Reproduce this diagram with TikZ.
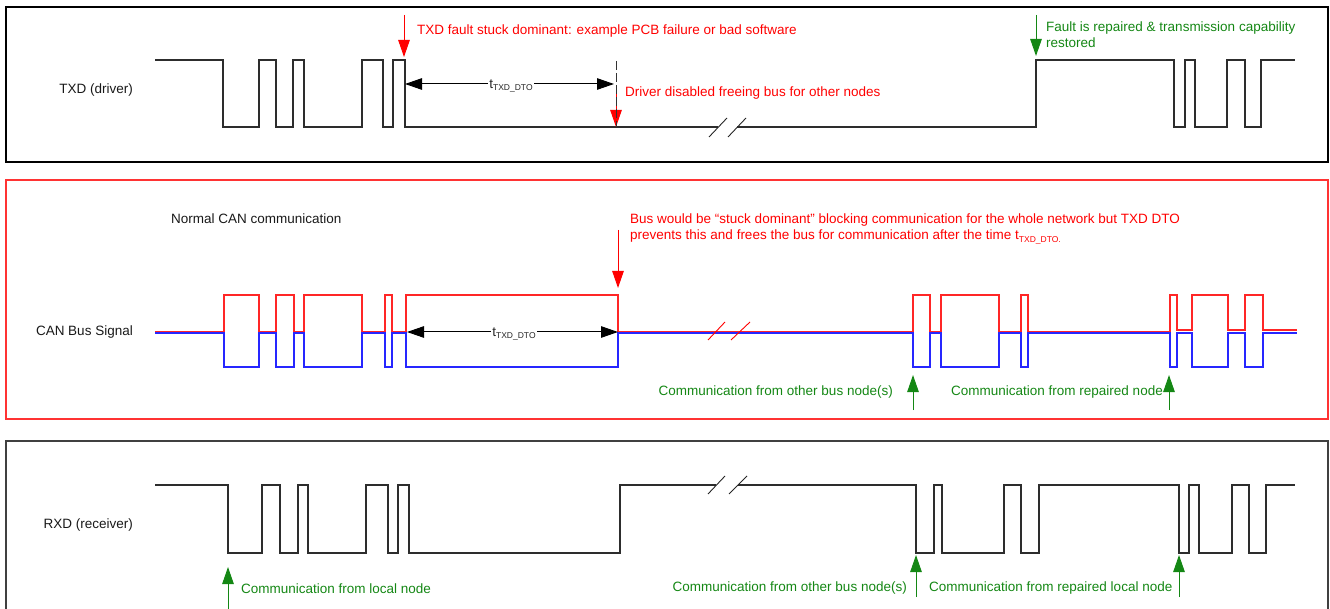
\documentclass[tikz,border=0pt]{standalone}
\usepackage{fontspec}
\setmainfont{Liberation Sans}
\usetikzlibrary{arrows.meta}
\definecolor{grn}{RGB}{20,135,20}
\definecolor{wavegray}{RGB}{45,45,45}
\newcommand{\tdto}{t\raisebox{-2.5pt}{\fontsize{8.5}{9}\selectfont TXD\_DTO}}
\newcommand{\tdtop}{t\raisebox{-2.5pt}{\fontsize{8.5}{9}\selectfont TXD\_DTO.}}
\tikzset{bigtri/.tip={Triangle[width=11.5pt,length=17pt]}}
\begin{document}
\begin{tikzpicture}[x=1pt,y=-1pt,
  wave/.style={line width=1.1pt, draw=wavegray, line join=miter},
  lbl/.style={font=\fontsize{13.5}{16}\selectfont, inner sep=0pt, text=black!90},
  note/.style={lbl, anchor=west, align=left},
  rednote/.style={note, text=red},
  grnnote/.style={note, text=grn},
  redarrow/.style={draw=red, line width=1pt, -{bigtri}, red},
  grnarrow/.style={draw=grn, line width=1pt, -{bigtri}, grn},
  dimarrow/.style={draw=black!75, line width=1pt, {bigtri}-{bigtri}, black},
  dimlbl/.style={font=\fontsize{13.5}{16}\selectfont, fill=white, inner sep=1pt, text=black!85},
  brk/.style={line width=0.9pt},
  panel/.style={line width=1.1pt}
]
\useasboundingbox (0,0) rectangle (1330,609);

% ---------- panels ----------
\draw[panel, draw=black] (6,7) rectangle (1328,162);
\draw[panel, draw=red!80] (6,180) rectangle (1328,419);
\draw[panel, draw=black!75] (6,612) -- (6,441) -- (1328,441) -- (1328,612);

% ---------- row labels ----------
\node[lbl, anchor=east] (ltxd) at (133,90.5) {TXD (driver)};
\node[lbl, anchor=east] (lcan) at (133,332.5) {CAN Bus Signal};
\node[lbl, anchor=east] (lrxd) at (133,525.5) {RXD (receiver)};

% ---------- TXD waveform ----------
\draw[wave] (155,60) -- (223,60) -- (223,127) -- (259,127) -- (259,60) -- (276,60) -- (276,127)
  -- (293,127) -- (293,60) -- (304,60) -- (304,127) -- (362,127) -- (362,60) -- (383,60)
  -- (383,127) -- (393,127) -- (393,60) -- (405,60) -- (405,127) -- (718,127);
\draw[wave] (737,127) -- (1036,127) -- (1036,60) -- (1174,60) -- (1174,127) -- (1185,127)
  -- (1185,60) -- (1195,60) -- (1195,127) -- (1227,127) -- (1227,60) -- (1245,60) -- (1245,127)
  -- (1261,127) -- (1261,60) -- (1295,60);
\draw[brk, black!85] (709,137) -- (727,118);
\draw[brk, black!85] (728,137) -- (746,118);

% TXD annotations
\coordinate (f1s) at (404,15);
\coordinate (f1e) at (404,57);
\draw[redarrow] (f1s) -- (f1e);
\node[rednote] (n1) at (417,31.5) {TXD fault stuck dominant: example PCB failure or bad software};

\coordinate (d1s) at (616,88);
\coordinate (d1e) at (616,127);
\draw[redarrow] (d1s) -- (d1e);
\coordinate (dashTop) at (616,61);
\draw[black!80, line width=1pt, dash pattern=on 9pt off 3pt] (dashTop) -- (d1e);
\node[rednote] (n2) at (625,93.5) {Driver disabled freeing bus for other nodes};

\coordinate (a1) at (405,84);
\coordinate (a2) at (614,84);
\draw[dimarrow] (a1) -- (a2);
\node[dimlbl] (t1) at (511,86) {\tdto};

\coordinate (g1s) at (1036,15);
\coordinate (g1e) at (1036,56);
\draw[grnarrow] (g1s) -- (g1e);
\node[grnnote] (n3) at (1046,34.5) {Fault is repaired \& transmission capability\\restored};

% ---------- CAN bus ----------
\node[note] (ncan) at (171,218.5) {Normal CAN communication};

\draw[line width=1.1pt, draw=blue!85] (155,333) -- (224,333) -- (224,367) -- (259,367) -- (259,333)
  -- (276,333) -- (276,367) -- (294,367) -- (294,333) -- (304,333) -- (304,367) -- (362,367)
  -- (362,333) -- (385,333) -- (385,367) -- (392,367) -- (392,333) -- (406,333) -- (406,367)
  -- (618,367) -- (618,333) -- (913,333) -- (913,367) -- (930,367) -- (930,333) -- (941,333)
  -- (941,367) -- (999,367) -- (999,333) -- (1021,333) -- (1021,367) -- (1028,367) -- (1028,333)
  -- (1170,333) -- (1170,367) -- (1177,367) -- (1177,333) -- (1192,333) -- (1192,367) -- (1228,367)
  -- (1228,333) -- (1245,333) -- (1245,367) -- (1263,367) -- (1263,333) -- (1297,333);
\draw[line width=1.1pt, draw=red!85] (155,331.5) -- (224,331.5) -- (224,295) -- (259,295) -- (259,331.5)
  -- (276,331.5) -- (276,295) -- (294,295) -- (294,331.5) -- (304,331.5) -- (304,295) -- (362,295)
  -- (362,331.5) -- (385,331.5) -- (385,295) -- (392,295) -- (392,331.5) -- (406,331.5) -- (406,295)
  -- (618,295) -- (618,331.5) -- (913,331.5) -- (913,295) -- (930,295) -- (930,331.5) -- (941,331.5)
  -- (941,295) -- (999,295) -- (999,331.5) -- (1021,331.5) -- (1021,295) -- (1028,295) -- (1028,331.5)
  -- (1170,331.5) -- (1170,295) -- (1177,295) -- (1177,330) -- (1192,330) -- (1192,295) -- (1228,295)
  -- (1228,330) -- (1245,330) -- (1245,295) -- (1263,295) -- (1263,330) -- (1297,330);
\draw[brk, red] (708,340) -- (725,322);
\draw[brk, red] (731,340) -- (750,322);

\coordinate (b1) at (407,332);
\coordinate (b2) at (618,332);
\draw[dimarrow] (b1) -- (b2);
\node[dimlbl] (t2) at (514,334) {\tdto};

\coordinate (r2s) at (618,230);
\coordinate (r2e) at (618,288);
\draw[redarrow] (r2s) -- (r2e);
\node[rednote] (n4) at (630,229) {Bus would be “stuck dominant” blocking communication for the whole network but TXD DTO\\prevents this and frees the bus for communication after the time \tdtop};

\coordinate (g2s) at (913,410);
\coordinate (g2e) at (913,375);
\draw[grnarrow] (g2s) -- (g2e);
\coordinate (g3s) at (1169,410);
\coordinate (g3e) at (1169,375);
\draw[grnarrow] (g3s) -- (g3e);
\node[lbl, anchor=east, text=grn] (n5) at (893,392.5) {Communication from other bus node(s)};
\node[grnnote] (n6) at (951,392.5) {Communication from repaired node};

% ---------- RXD waveform ----------
\draw[wave] (155,485) -- (228,485) -- (228,553) -- (262,553) -- (262,485) -- (280,485) -- (280,553)
  -- (298,553) -- (298,485) -- (308,485) -- (308,553) -- (366,553) -- (366,485) -- (388,485)
  -- (388,553) -- (398,553) -- (398,485) -- (409,485) -- (409,553) -- (620,553) -- (620,485) -- (716,485);
\draw[wave] (738,485) -- (916,485) -- (916,553) -- (934,553) -- (934,485) -- (942,485) -- (942,553)
  -- (1004,553) -- (1004,485) -- (1021,485) -- (1021,553) -- (1039,553) -- (1039,485) -- (1179,485)
  -- (1179,553) -- (1189,553) -- (1189,485) -- (1199,485) -- (1199,553) -- (1232,553) -- (1232,485)
  -- (1249,485) -- (1249,553) -- (1266,553) -- (1266,485) -- (1295,485);
\draw[brk, black!85] (708,494) -- (725,476);
\draw[brk, black!85] (729,494) -- (747,476);

\coordinate (g4s) at (228,610);
\coordinate (g4e) at (228,567);
\draw[grnarrow] (g4s) -- (g4e);
\coordinate (g5s) at (916,597);
\coordinate (g5e) at (916,555);
\draw[grnarrow] (g5s) -- (g5e);
\coordinate (g6s) at (1179,597);
\coordinate (g6e) at (1179,555);
\draw[grnarrow] (g6s) -- (g6e);
\node[grnnote] (n7) at (241,588.5) {Communication from local node};
\node[lbl, anchor=east, text=grn] (n8) at (907,588.5) {Communication from other bus node(s)};
\node[grnnote] (n9) at (929,588.5) {Communication from repaired local node};
\end{tikzpicture}
\end{document}
